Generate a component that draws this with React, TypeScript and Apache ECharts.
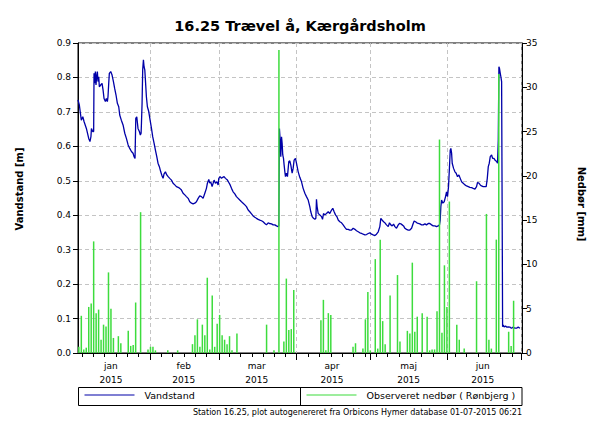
import React, { useEffect, useRef } from 'react';
import * as echarts from 'echarts';

const TITLE = '16.25 Trævel å, Kærgårdsholm';
const FOOTER = 'Station 16.25, plot autogenereret fra Orbicons Hymer database 01-07-2015 06:21';
const LEFT_NAME = 'Vandstand [m]';
const RIGHT_NAME = 'Nedbør [mm]';
const LEVEL_NAME = 'Vandstand';
const RAIN_NAME = 'Observeret nedbør ( Rønbjerg )';
const MONTH_LABELS = ['jan', 'feb', 'mar', 'apr', 'maj', 'jun'];
const YEAR = 2015;

// Water level: [days since 1 Jan 2015 00:00, metres]
const levelJan: [number, number][] = [
  [1.66, 0.735], [2.2, 0.72], [3.0, 0.676], [3.6, 0.686], [4.1, 0.672], [5.05, 0.652], [6.0, 0.623],
  [6.5, 0.614], [6.9, 0.628], [7.1, 0.652], [7.6, 0.643], [8.0, 0.643], [8.15, 0.812], [8.4, 0.783],
  [8.7, 0.817], [8.95, 0.778], [9.2, 0.802], [9.5, 0.817], [9.75, 0.788], [10.05, 0.802], [10.3, 0.773],
  [10.85, 0.778], [11.4, 0.783], [11.8, 0.764], [12.2, 0.739], [12.75, 0.73], [13.15, 0.739], [13.55, 0.73],
  [13.8, 0.744], [14.1, 0.783], [14.35, 0.812], [14.9, 0.817], [15.45, 0.807], [16.0, 0.788], [16.5, 0.768],
  [17.05, 0.749], [17.6, 0.725], [18.15, 0.715], [18.55, 0.691], [19.2, 0.676], [19.9, 0.662], [20.6, 0.638],
  [21.25, 0.623], [21.95, 0.604], [22.6, 0.594], [23.3, 0.585], [23.95, 0.58], [24.35, 0.57], [24.75, 0.565],
  [25.05, 0.681], [25.45, 0.686], [25.95, 0.652], [26.5, 0.643], [26.9, 0.633], [27.2, 0.638], [27.35, 0.667],
  [27.6, 0.725], [27.85, 0.822], [28.15, 0.851], [28.4, 0.831], [28.7, 0.822], [28.95, 0.793], [29.35, 0.744],
  [29.75, 0.715], [30.3, 0.701], [30.85, 0.676],
];
const levelFeb: [number, number][] = [
  [31.4, 0.652], [31.9, 0.628], [32.45, 0.609], [33.0, 0.589], [33.55, 0.57], [34.05, 0.551], [34.6, 0.541],
  [35.15, 0.526], [35.7, 0.514], [36.1, 0.507], [36.5, 0.52], [37.05, 0.526], [37.6, 0.517], [38.15, 0.512],
  [38.8, 0.507], [39.5, 0.502], [40.15, 0.493], [40.85, 0.488], [41.5, 0.483], [42.2, 0.481], [42.85, 0.478],
  [43.55, 0.473], [44.2, 0.464], [44.9, 0.459], [45.55, 0.454], [46.25, 0.449], [46.9, 0.439], [47.6, 0.435],
  [48.25, 0.433], [48.95, 0.435], [49.6, 0.439], [50.3, 0.449], [50.95, 0.456], [51.65, 0.454], [52.3, 0.449],
  [53.0, 0.464], [53.65, 0.478], [54.05, 0.493], [54.6, 0.504], [55.0, 0.493], [55.4, 0.497], [55.95, 0.483],
  [56.75, 0.502], [57.3, 0.493], [57.85, 0.497], [58.4, 0.488], [58.65, 0.507],
];
const levelMar: [number, number][] = [
  [59.2, 0.512], [59.75, 0.507], [60.25, 0.51], [60.8, 0.512], [61.35, 0.507], [62.15, 0.502], [62.7, 0.495],
  [63.25, 0.488], [63.8, 0.478], [64.45, 0.468], [65.15, 0.462], [65.8, 0.454], [66.5, 0.449], [67.15, 0.444],
  [67.85, 0.439], [68.5, 0.435], [69.2, 0.43], [69.85, 0.425], [70.55, 0.415], [71.2, 0.41], [71.9, 0.404],
  [72.55, 0.398], [73.25, 0.394], [73.9, 0.391], [74.6, 0.388], [75.25, 0.386], [75.95, 0.384], [76.6, 0.381],
  [77.3, 0.376], [77.95, 0.372], [78.65, 0.378], [79.15, 0.376], [80.0, 0.375], [80.65, 0.372], [81.35, 0.372],
  [82.0, 0.369], [82.7, 0.367], [82.95, 0.369], [83.2, 0.652], [83.5, 0.618], [83.75, 0.57], [84.05, 0.628],
  [84.3, 0.609], [84.55, 0.575], [84.85, 0.565], [85.1, 0.546], [85.4, 0.526], [85.65, 0.512], [86.05, 0.522],
  [86.45, 0.512], [86.75, 0.536], [87.0, 0.556], [87.4, 0.558], [87.8, 0.546], [88.35, 0.522], [88.75, 0.536],
  [89.15, 0.56], [89.7, 0.565],
];
const levelApr: [number, number][] = [
  [90.1, 0.551], [90.8, 0.526], [91.45, 0.51], [92.15, 0.497], [92.8, 0.478], [93.5, 0.464], [94.15, 0.454],
  [94.85, 0.444], [95.5, 0.425], [95.9, 0.41], [96.45, 0.396], [97.0, 0.391], [97.55, 0.388], [97.95, 0.391],
  [98.2, 0.446], [98.45, 0.425], [98.9, 0.405], [99.55, 0.401], [100.25, 0.396], [100.65, 0.388], [101.05, 0.405],
  [101.6, 0.401], [102.25, 0.405], [102.95, 0.41], [103.6, 0.405], [104.3, 0.415], [104.8, 0.42], [105.35, 0.41],
  [105.9, 0.401], [106.45, 0.396], [107.0, 0.386], [107.65, 0.381], [108.35, 0.378], [109.0, 0.372], [109.7, 0.365],
  [110.35, 0.359], [111.05, 0.359], [111.7, 0.357], [112.4, 0.357], [113.05, 0.362], [113.75, 0.359], [114.4, 0.355],
  [115.1, 0.352], [115.75, 0.349], [116.45, 0.347], [117.1, 0.345], [117.8, 0.343], [118.45, 0.344], [119.15, 0.347],
  [119.8, 0.349],
];
const levelMay: [number, number][] = [
  [120.5, 0.345], [121.15, 0.343], [121.85, 0.341], [122.5, 0.345], [123.2, 0.352], [123.85, 0.367], [124.25, 0.391],
  [124.8, 0.386], [125.35, 0.381], [125.9, 0.378], [126.55, 0.372], [127.25, 0.367], [127.75, 0.378], [128.3, 0.372],
  [128.85, 0.369], [129.4, 0.374], [129.95, 0.367], [130.6, 0.362], [131.3, 0.372], [131.8, 0.376], [132.35, 0.375],
  [132.9, 0.372], [133.45, 0.369], [134.0, 0.362], [134.65, 0.359], [135.35, 0.357], [136.0, 0.357], [136.7, 0.362],
  [137.35, 0.376], [137.75, 0.383], [138.3, 0.381], [138.85, 0.378], [139.4, 0.376], [140.05, 0.375], [140.75, 0.372],
  [141.4, 0.372], [142.1, 0.375], [142.75, 0.372], [143.45, 0.376], [144.1, 0.376], [144.8, 0.372], [145.45, 0.369],
  [146.15, 0.369], [146.8, 0.367], [147.5, 0.369], [148.0, 0.372], [148.3, 0.386], [148.55, 0.425], [148.85, 0.444],
  [149.35, 0.435], [149.9, 0.439], [150.45, 0.454], [150.85, 0.468],
];
const levelJun: [number, number][] = [
  [151.25, 0.454], [151.65, 0.483], [152.05, 0.541], [152.35, 0.589], [152.6, 0.594], [152.9, 0.58], [153.15, 0.551],
  [153.7, 0.536], [154.25, 0.526], [154.75, 0.522], [155.3, 0.512], [155.85, 0.517], [156.4, 0.507], [156.95, 0.497],
  [157.6, 0.493], [158.3, 0.488], [158.95, 0.485], [159.65, 0.483], [160.3, 0.481], [161.0, 0.48], [161.65, 0.478],
  [162.35, 0.476], [163.0, 0.483], [163.4, 0.495], [163.95, 0.493], [164.5, 0.488], [165.0, 0.485], [165.7, 0.483],
  [166.4, 0.483], [166.9, 0.483], [167.35, 0.507], [167.75, 0.541], [168.15, 0.551], [168.55, 0.57], [169.1, 0.575],
  [169.5, 0.565], [170.05, 0.565], [170.45, 0.56], [171.1, 0.556], [171.5, 0.551], [171.8, 0.618], [172.05, 0.831],
  [172.3, 0.826], [172.6, 0.812], [172.85, 0.802], [173.15, 0.788], [173.4, 0.788], [173.55, 0.076], [173.8, 0.081],
  [174.2, 0.076], [174.75, 0.078], [175.3, 0.075], [175.8, 0.076], [176.5, 0.075], [177.15, 0.072], [177.85, 0.075],
  [178.5, 0.072], [179.2, 0.072], [179.85, 0.075], [180.55, 0.072],
];

// Daily precipitation: [MM-DD 2015, mm]
const rainJan: [string, number][] = [
  ['01-03', 0.7], ['01-04', 4.2], ['01-05', 0.4], ['01-06', 0.6], ['01-07', 5.2], ['01-08', 5.6], ['01-09', 12.6],
  ['01-10', 4.5], ['01-11', 4.9], ['01-12', 1.5], ['01-13', 3.2], ['01-14', 3.0], ['01-15', 9.1], ['01-16', 5.0],
  ['01-17', 1.7], ['01-19', 1.9], ['01-20', 1.1], ['01-23', 2.5], ['01-24', 0.8], ['01-25', 0.9], ['01-26', 5.7],
  ['01-28', 15.9], ['01-31', 0.4],
];
const rainFeb: [string, number][] = [
  ['02-01', 0.7], ['02-02', 0.7], ['02-03', 0.3], ['02-08', 0.3], ['02-12', 0.3], ['02-18', 1.0], ['02-19', 2.0],
  ['02-20', 3.8], ['02-21', 0.7], ['02-22', 3.2], ['02-23', 2.0], ['02-24', 8.5], ['02-25', 0.4], ['02-26', 6.5],
  ['02-27', 0.7], ['02-28', 3.3],
];
const rainMar: [string, number][] = [
  ['03-01', 4.3], ['03-02', 2.0], ['03-03', 1.5], ['03-04', 1.0], ['03-05', 1.9], ['03-06', 0.3], ['03-08', 2.2],
  ['03-20', 3.2], ['03-23', 0.3], ['03-25', 34.2], ['03-27', 1.3], ['03-28', 8.4], ['03-29', 2.6], ['03-30', 2.7],
  ['03-31', 7.1],
];
const rainApr: [string, number][] = [
  ['04-11', 3.7], ['04-12', 6.0], ['04-13', 0.3], ['04-14', 4.5], ['04-15', 4.3], ['04-24', 0.7], ['04-25', 1.1],
  ['04-28', 0.5], ['04-29', 3.8], ['04-30', 6.9],
];
const rainMay: [string, number][] = [
  ['05-01', 0.3], ['05-03', 10.6], ['05-04', 0.5], ['05-05', 12.8], ['05-06', 3.6], ['05-07', 1.0], ['05-09', 6.5],
  ['05-12', 8.8], ['05-13', 1.3], ['05-16', 2.5], ['05-17', 2.2], ['05-18', 10.2], ['05-19', 2.4], ['05-20', 4.1],
  ['05-22', 4.5], ['05-24', 4.1], ['05-25', 0.3], ['05-26', 0.4], ['05-27', 0.4], ['05-28', 4.7], ['05-29', 24.1],
  ['05-30', 2.3], ['05-31', 9.9],
];
const rainJun: [string, number][] = [
  ['06-01', 5.2], ['06-02', 17.1], ['06-05', 3.2], ['06-06', 1.5], ['06-08', 0.5], ['06-13', 8.1], ['06-17', 15.7],
  ['06-18', 1.5], ['06-19', 0.5], ['06-21', 12.8], ['06-22', 31.5], ['06-26', 2.4], ['06-27', 0.8], ['06-28', 5.9],
];

const FONT = 'DejaVu Sans';
const DAY = 86400000;
const T0 = Date.UTC(YEAR, 0, 1);
// x axis unit: days since 1 Jan 2015 00:00
const dayOf = (md: string) => {
  const [m, d] = md.split('-').map(Number);
  return (Date.UTC(YEAR, m - 1, d) - T0) / DAY;
};
const monthOfDay = (d: number) => new Date(T0 + d * DAY).getUTCMonth();

export default function App() {
  const ref = useRef<HTMLDivElement>(null);
  useEffect(() => {
    if (!ref.current) return;
    const chart = echarts.init(ref.current, undefined, { renderer: 'svg' });

    const level = [...levelJan, ...levelFeb, ...levelMar, ...levelApr, ...levelMay, ...levelJun];
    const rain = [...rainJan, ...rainFeb, ...rainMar, ...rainApr, ...rainMay, ...rainJun].map(
      ([md, v]) => [dayOf(md), v]
    );

    const xMin = 1.66;
    const xMax = 181.4;
    const monthStarts = [1, 2, 3, 4, 5, 6].map((m) => (Date.UTC(YEAR, m, 1) - T0) / DAY);
    const monthMids = [15, 44.5, 74, 104.5, 135.5, 165.5];
    const minor: number[] = [];
    for (let d = 3.3; d < xMax; d += 4.58) {
      if (monthStarts.every((s) => Math.abs(s - d) > 1.2)) minor.push(d);
    }

    const grid = { color: '#c4c4c4', type: [4, 3] as number[], width: 1 };
    const axisText = { fontFamily: FONT, fontSize: 9, color: '#000' };

    chart.setOption({
      animation: false,
      backgroundColor: '#fff',
      title: {
        text: TITLE,
        left: 'center',
        top: 13,
        textStyle: { fontFamily: FONT, fontWeight: 'bold', fontSize: 14.5, color: '#000' },
      },
      grid: {
        left: 78,
        right: 78,
        top: 43,
        bottom: 72,
        show: true,
        borderColor: '#000',
        borderWidth: 1,
        backgroundColor: '#fff',
      },
      legend: [
        {
          data: [{ name: LEVEL_NAME, icon: 'rect' }],
          left: 84.5,
          top: 390,
          padding: 0,
          itemWidth: 50,
          itemHeight: 1.2,
          selectedMode: false,
          textStyle: { fontFamily: FONT, fontSize: 9.5, color: '#000', padding: [0, 0, 0, 5] },
        },
        {
          data: [{ name: RAIN_NAME, icon: 'rect' }],
          left: 306.5,
          top: 390,
          padding: 0,
          itemWidth: 50,
          itemHeight: 1.2,
          selectedMode: false,
          textStyle: { fontFamily: FONT, fontSize: 9.5, color: '#000', padding: [0, 0, 0, 5] },
        },
      ],
      xAxis: [
        {
          type: 'value',
          position: 'bottom',
          min: xMin,
          max: xMax,
          axisLine: { show: true, onZero: false, lineStyle: { color: '#000', width: 1 } },
          axisTick: { show: true, customValues: monthStarts, length: 7, lineStyle: { color: '#000' } },
          axisLabel: {
            customValues: monthMids,
            formatter: (v: number) => `${MONTH_LABELS[monthOfDay(v)]}\n${YEAR}`,
            ...axisText,
            lineHeight: 14,
            margin: 6,
          },
          splitLine: { show: true, lineStyle: grid },
        },
        {
          type: 'value',
          position: 'bottom',
          min: xMin,
          max: xMax,
          axisLine: { show: false, onZero: false },
          axisTick: { show: true, customValues: minor, length: 4, lineStyle: { color: '#000' } },
          axisLabel: { show: false },
          splitLine: { show: false },
        },
      ],
      yAxis: [
        {
          type: 'value',
          position: 'left',
          min: 0,
          max: 0.9,
          interval: 0.1,
          name: LEFT_NAME,
          nameLocation: 'middle',
          nameGap: 54,
          nameTextStyle: {
            fontFamily: FONT,
            fontWeight: 'bold',
            fontSize: 10,
            color: '#000',
            padding: [0, 0, 0, 18],
          },
          axisLine: { show: true, lineStyle: { color: '#000' } },
          axisTick: { show: true, length: 5, lineStyle: { color: '#000' } },
          axisLabel: { ...axisText, margin: 7, formatter: (v: number) => v.toFixed(1) },
          splitLine: { show: true, lineStyle: grid },
        },
        {
          type: 'value',
          position: 'right',
          min: 0,
          max: 35,
          interval: 5,
          name: RIGHT_NAME,
          nameLocation: 'middle',
          nameRotate: -90,
          nameGap: 54,
          nameTextStyle: {
            fontFamily: FONT,
            fontWeight: 'bold',
            fontSize: 10,
            color: '#000',
            padding: [0, 0, 0, 12],
          },
          axisLine: { show: true, lineStyle: { color: '#000' } },
          axisTick: { show: true, length: 5, lineStyle: { color: '#000' } },
          axisLabel: { ...axisText, margin: 4 },
          splitLine: { show: false },
        },
      ],
      series: [
        {
          name: LEVEL_NAME,
          type: 'line',
          xAxisIndex: 0,
          yAxisIndex: 0,
          data: level,
          symbol: 'none',
          itemStyle: { color: '#0000a8' },
          lineStyle: { color: '#0000a8', width: 1.3 },
          z: 2,
        },
        {
          name: RAIN_NAME,
          type: 'bar',
          xAxisIndex: 0,
          yAxisIndex: 1,
          data: rain,
          barWidth: 1.5,
          itemStyle: { color: '#3ddc3d' },
          z: 3,
        },
      ],
      graphic: [
        {
          type: 'rect',
          shape: { x: 78.5, y: 387.5, width: 443.5, height: 18 },
          style: { fill: 'none', stroke: '#000', lineWidth: 1 },
          silent: true,
        },
        {
          type: 'line',
          shape: { x1: 300.5, y1: 387.5, x2: 300.5, y2: 405.5 },
          style: { stroke: '#000', lineWidth: 1 },
          silent: true,
        },
        {
          type: 'text',
          x: 522,
          y: 412.5,
          style: {
            text: FOOTER,
            fontFamily: FONT,
            fontSize: 8,
            fill: '#000',
            textAlign: 'right',
            textVerticalAlign: 'middle',
          },
          silent: true,
        },
      ],
    });
    return () => chart.dispose();
  }, []);

  return (
    <div
      ref={ref}
      style={{ position: 'absolute', left: 0, top: 0, width: 600, height: 425, background: '#fff' }}
    />
  );
}
